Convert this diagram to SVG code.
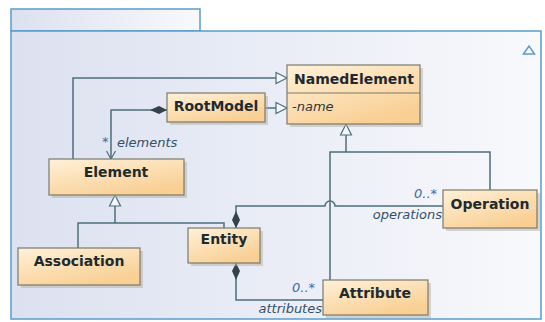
<svg xmlns="http://www.w3.org/2000/svg" width="545" height="322" viewBox="0 0 545 322">
<defs>
<linearGradient id="pkg" x1="0" y1="0" x2="1" y2="0">
<stop offset="0" stop-color="#dce1f0"/>
<stop offset="1" stop-color="#f8f9fc"/>
</linearGradient>
<linearGradient id="box" x1="0" y1="0" x2="0.6" y2="1">
<stop offset="0" stop-color="#fff1d9"/>
<stop offset="1" stop-color="#f9cf93"/>
</linearGradient>
<marker id="gen" markerUnits="userSpaceOnUse" markerWidth="14" markerHeight="14" viewBox="-12 -7 14 14" refX="0" refY="0" orient="auto">
<path d="M-11,-5.5 L0,0 L-11,5.5 Z" fill="#f4f6fb" stroke="#4b6f7c" stroke-width="1.2"/>
</marker>
<marker id="dia" markerUnits="userSpaceOnUse" markerWidth="20" markerHeight="12" viewBox="-1 -6 20 12" refX="0" refY="0" orient="auto">
<path d="M0,0 L8,-4 L17,0 L8,4 Z" fill="#33434a"/>
</marker>
<marker id="open" markerUnits="userSpaceOnUse" markerWidth="12" markerHeight="12" viewBox="-10 -6 12 12" refX="0" refY="0" orient="auto">
<path d="M-8,-4.5 L0,0 L-8,4.5" fill="none" stroke="#4b6f7c" stroke-width="1.2"/>
</marker>
</defs>
<style>
.pkg{fill:url(#pkg);stroke:#5a9ccc;stroke-width:1.5}
.shadow{fill:#b4b0a6;opacity:0.5}
.node{fill:url(#box);stroke:#7a7a6c;stroke-width:1.2}
.name{font-family:"DejaVu Sans",sans-serif;font-weight:bold;font-size:14px;fill:#1e2a30;text-anchor:middle}
.attr{font-family:"DejaVu Sans",sans-serif;font-style:italic;font-size:13px;fill:#2a3640}
.conn{fill:none;stroke:#4b6f7c;stroke-width:1.5}
.lbl{font-family:"DejaVu Sans",sans-serif;font-style:italic;font-size:13px;fill:#33506a}
.mult{font-family:"DejaVu Sans",sans-serif;font-style:italic;font-size:13px;fill:#3a6aa8}
</style>
<g id="package">
<rect class="pkg" x="11" y="9" width="189" height="22"/>
<rect class="pkg" x="11" y="31" width="530" height="288"/>
<path d="M523.5,54 L529,46 L534.5,54 Z" fill="none" stroke="#5a9ccc" stroke-width="1.5"/>
</g>
<g id="connectors">
<path class="conn" d="M73,159 V78 H287" marker-end="url(#gen)"/>
<path class="conn" d="M265,108 H287" marker-end="url(#gen)"/>
<path class="conn" d="M330,280 V152 H490 V190"/>
<path class="conn" d="M346,152 V124" marker-end="url(#gen)"/>
<path class="conn" d="M78,248 V223 H224 V228"/>
<path class="conn" d="M115,223 V195" marker-end="url(#gen)"/>
<path class="conn" d="M167,110 H111 V159" marker-start="url(#dia)" marker-end="url(#open)"/>
<path class="conn" d="M236,228 V206 H325 A5,5 0 0 1 335,206 H443" marker-start="url(#dia)"/>
<path class="conn" d="M236,263 V300 H323" marker-start="url(#dia)"/>
<text class="mult" x="102" y="146">*</text>
<text class="lbl" x="117" y="147">elements</text>
<text class="mult" x="414" y="198">0..*</text>
<text class="lbl" x="442" y="219" text-anchor="end">operations</text>
<text class="mult" x="292" y="292">0..*</text>
<text class="lbl" x="322" y="313" text-anchor="end">attributes</text>
</g>
<g id="NamedElement">
<rect class="shadow" x="290" y="68" width="133" height="59"/>
<rect class="node" x="287" y="65" width="133" height="59"/>
<line x1="287" y1="93" x2="420" y2="93" stroke="#7a7a6c" stroke-width="1.2"/>
<text class="name" x="354" y="84">NamedElement</text>
<text class="attr" x="292" y="111">-name</text>
</g>
<g id="RootModel">
<rect class="shadow" x="170" y="96" width="98" height="29"/>
<rect class="node" x="167" y="93" width="98" height="29"/>
<text class="name" x="216" y="111">RootModel</text>
</g>
<g id="Element">
<rect class="shadow" x="52" y="162" width="135" height="36"/>
<rect class="node" x="49" y="159" width="135" height="36"/>
<text class="name" x="116" y="177">Element</text>
</g>
<g id="Association">
<rect class="shadow" x="21" y="251" width="122" height="37"/>
<rect class="node" x="18" y="248" width="122" height="37"/>
<text class="name" x="79" y="266">Association</text>
</g>
<g id="Entity">
<rect class="shadow" x="191" y="231" width="72" height="35"/>
<rect class="node" x="188" y="228" width="72" height="35"/>
<text class="name" x="224" y="244">Entity</text>
</g>
<g id="Operation">
<rect class="shadow" x="446" y="193" width="94" height="38"/>
<rect class="node" x="443" y="190" width="94" height="38"/>
<text class="name" x="490" y="209">Operation</text>
</g>
<g id="Attribute">
<rect class="shadow" x="326" y="283" width="105" height="35"/>
<rect class="node" x="323" y="280" width="105" height="35"/>
<text class="name" x="375" y="298">Attribute</text>
</g>
</svg>
